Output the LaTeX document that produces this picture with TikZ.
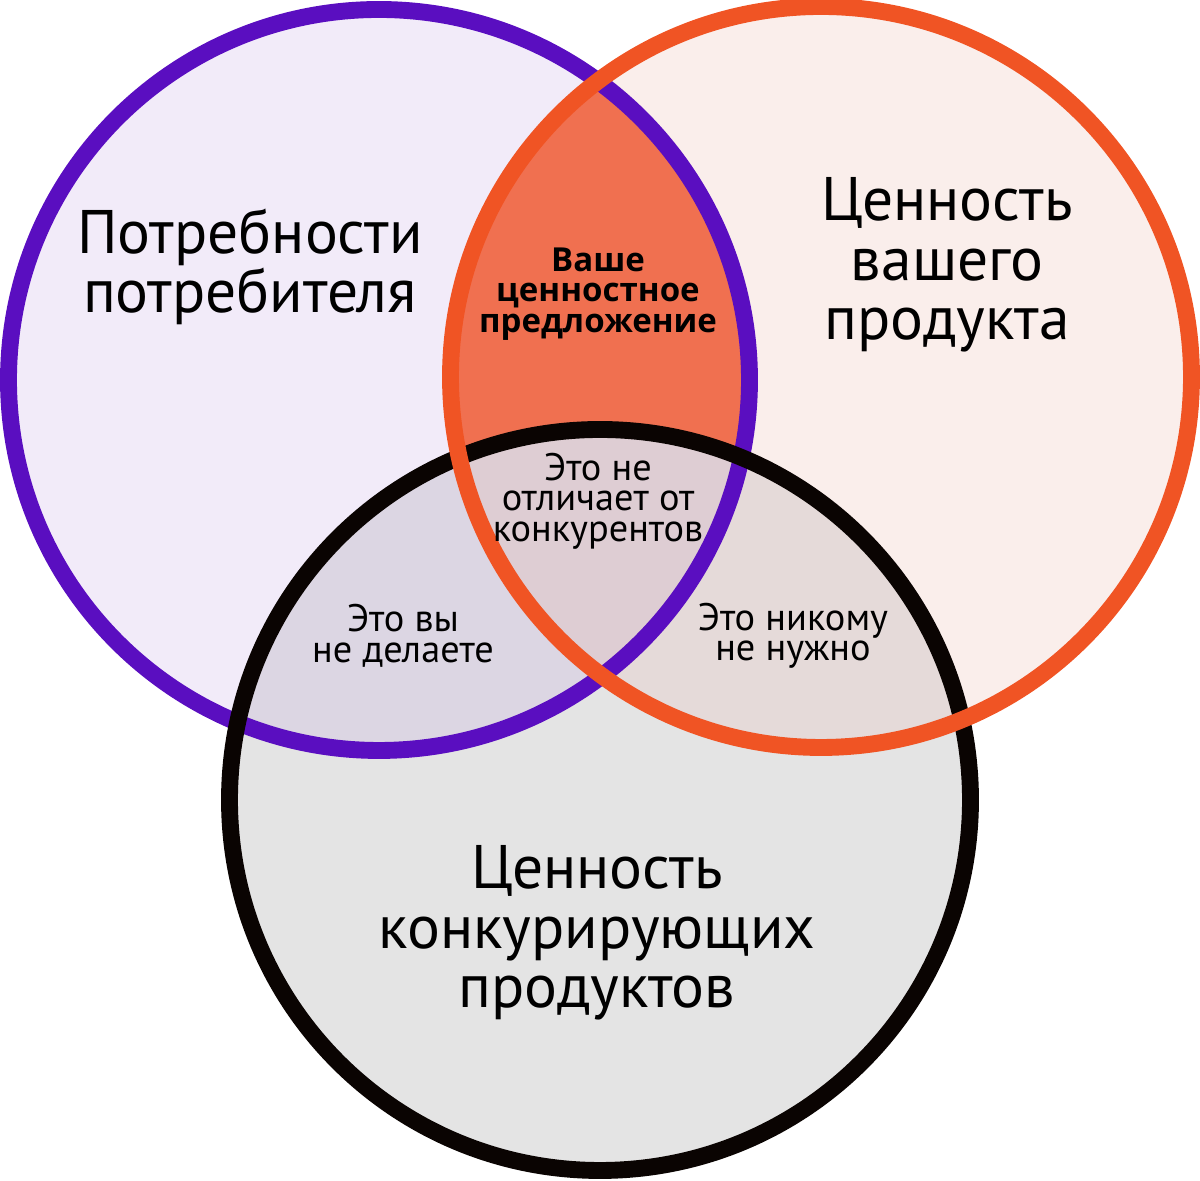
\documentclass[tikz,border=0pt]{standalone}
\usepackage{fontspec}
\setmainfont{PT Sans}
\newfontfamily\offerfont{Open Sans}
\usepackage{xcolor}
\definecolor{needline}{RGB}{90,14,192}
\definecolor{valueline}{RGB}{240,84,36}
\definecolor{rivalline}{RGB}{10,4,2}
\definecolor{needfill}{RGB}{242,235,249}
\definecolor{valuefill}{RGB}{250,238,235}
\definecolor{rivalfill}{RGB}{228,228,228}
\definecolor{offerfill}{RGB}{240,112,80}
\definecolor{nrfill}{RGB}{220,214,227}
\definecolor{vrfill}{RGB}{229,218,217}
\definecolor{allfill}{RGB}{222,205,211}

\tikzset{
  ring/.style={line width=4.8pt},
  bigtext/.style={align=center,inner sep=0pt,font=\fontsize{17.5}{17}\selectfont},
  smalltext/.style={align=center,inner sep=0pt,font=\fontsize{10.9}{8.7}\selectfont},
  offertext/.style={align=center,inner sep=0pt,font=\offerfont\bfseries\fontsize{9.4}{8.6}\selectfont}
}

\begin{document}
\begin{tikzpicture}
  \useasboundingbox (0,0) rectangle (12,11.81);
  \def\rad{3.705}
  \coordinate (needs) at (3.79,8.01);
  \coordinate (value) at (8.21,8.04);
  \coordinate (rivals) at (6.00,3.81);

  % Fills
  \fill[needfill] (needs) circle (\rad);
  \fill[valuefill] (value) circle (\rad);
  \fill[rivalfill] (rivals) circle (\rad);
  \begin{scope}
    \clip (needs) circle (\rad);
    \fill[offerfill] (value) circle (\rad);
    \fill[nrfill] (rivals) circle (\rad);
  \end{scope}
  \begin{scope}
    \clip (value) circle (\rad);
    \fill[vrfill] (rivals) circle (\rad);
    \clip (needs) circle (\rad);
    \fill[allfill] (rivals) circle (\rad);
  \end{scope}

  % Rings
  \draw[ring,needline] (needs) circle (\rad);
  \draw[ring,rivalline] (rivals) circle (\rad);
  \draw[ring,valueline] (value) circle (\rad);

  % Labels
  \node[bigtext] (needslabel) at (2.50,9.14) {Потребности\\потребителя};
  \node[bigtext] (valuelabel) at (9.47,9.16) {Ценность\\вашего\\продукта};
  \node[bigtext] (rivalslabel) at (5.97,2.48) {Ценность\\конкурирующих\\продуктов};
  \node[offertext] (offer) at (5.98,8.87) {Ваше\\ценностное\\предложение};
  \node[smalltext] (same) at (5.98,6.80) {Это не\\отличает от\\конкурентов};
  \node[smalltext] (notdone) at (4.03,5.45) {Это вы\\не делаете};
  \node[smalltext] (unneeded) at (7.93,5.45) {Это никому\\не нужно};
\end{tikzpicture}
\end{document}
